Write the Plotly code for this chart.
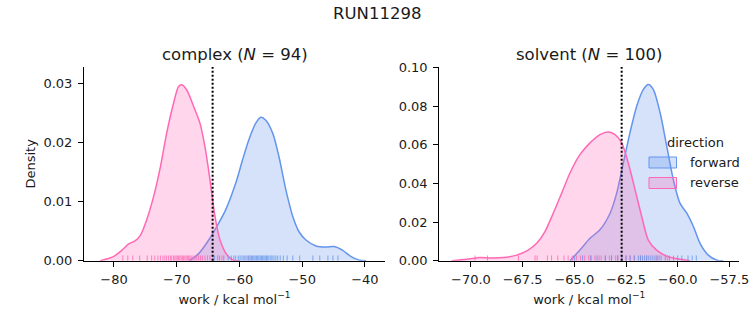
import plotly.graph_objects as go

# ---------------- data ----------------
cx_fwd_x = [-68.0, -66.5, -64.9, -63.6, -62.2, -60.6, -59.5, -58.5, -57.4, -56.6, -55.8, -54.7,
            -53.7, -52.6, -51.5, -50.5, -49.4, -47.8, -46.2, -44.9, -43.6, -42.2, -40.9, -39.8]
cx_fwd_y = [0.0, 0.0012, 0.0035, 0.0058, 0.0086, 0.0131, 0.0171, 0.0205, 0.0233, 0.0243, 0.0238, 0.0216,
            0.0176, 0.0120, 0.0075, 0.0049, 0.0035, 0.0025, 0.0023, 0.0024, 0.0018, 0.0007, 0.0001, 0.0]
cx_rev_x = [-82.2, -80.1, -78.8, -77.7, -76.6, -75.8, -74.8, -73.7, -72.6, -71.6, -70.5, -69.7,
            -69.2, -68.4, -67.3, -66.3, -65.5, -64.7, -63.9, -63.1, -62.0, -61.0, -59.9]
cx_rev_y = [0.0, 0.0007, 0.0017, 0.0028, 0.0034, 0.0043, 0.0069, 0.0108, 0.0159, 0.0216, 0.0267, 0.0295,
            0.0298, 0.0289, 0.0261, 0.0233, 0.0193, 0.0137, 0.0075, 0.0035, 0.0010, 0.0001, 0.0]

sv_fwd_x = [-65.21, -64.73, -64.24, -63.76, -63.27, -62.95, -62.63, -62.31, -61.98, -61.66, -61.42,
            -61.18, -60.85, -60.53, -60.21, -59.89, -59.56, -59.24, -58.92, -58.52, -58.11, -57.79]
sv_fwd_y = [0.0, 0.0055, 0.0116, 0.0160, 0.0246, 0.0350, 0.0506, 0.0662, 0.0801, 0.0887, 0.0913,
            0.0887, 0.0766, 0.0593, 0.0419, 0.0298, 0.0246, 0.0177, 0.0090, 0.0029, 0.0003, 0.0]
sv_rev_x = [-70.94, -70.2, -69.56, -69.08, -68.44, -67.79, -67.23, -66.82, -66.42, -66.02, -65.61, -65.21,
            -64.73, -64.24, -63.76, -63.35, -63.03, -62.71, -62.39, -62.06, -61.74, -61.42, -61.02,
            -60.53, -59.89, -59.4]
sv_rev_y = [0.0, 0.0007, 0.0017, 0.0014, 0.0016, 0.0029, 0.0055, 0.0090, 0.0151, 0.0246, 0.0350, 0.0454,
            0.0549, 0.0610, 0.0653, 0.0666, 0.0653, 0.0610, 0.0506, 0.0367, 0.0229, 0.0107, 0.0055,
            0.0024, 0.0007, 0.0]

cx_fwd_rug = [-64.0, -63.2, -62.5, -61.8, -61.3, -60.9, -60.6, -60.2, -59.9, -59.6, -59.3, -59.1, -58.8,
              -58.6, -58.3, -58.1, -57.9, -57.7, -57.5, -57.3, -57.1, -56.9, -56.7, -56.5, -56.3, -56.1,
              -55.9, -55.7, -55.5, -55.3, -55.0, -54.8, -54.5, -54.2, -53.9, -53.5, -53.0, -52.4, -51.5,
              -50.4, -48.3, -47.2, -45.9, -45.1, -44.3]
cx_rev_rug = [-78.6, -77.8, -77.0, -75.9, -74.7, -74.0, -73.5, -73.0, -72.6, -72.2, -71.9, -71.6, -71.3,
              -71.0, -70.8, -70.5, -70.3, -70.1, -69.9, -69.7, -69.5, -69.3, -69.1, -68.9, -68.7, -68.5,
              -68.3, -68.1, -67.9, -67.7, -67.4, -67.1, -66.8, -66.5, -66.2, -65.9, -65.5, -65.1, -64.7,
              -64.2, -63.5, -62.8, -58.5]
sv_fwd_rug = [-65.0, -64.6, -64.2, -63.9, -63.5, -63.2, -62.9, -62.7, -62.5, -62.3, -62.1, -61.9, -61.8,
              -61.7, -61.6, -61.5, -61.4, -61.3, -61.2, -61.1, -61.0, -60.9, -60.8, -60.6, -60.4, -60.2,
              -60.0, -59.8, -59.5, -59.3, -59.1]
sv_rev_rug = [-69.8, -69.2, -67.7, -66.9, -66.8, -66.3, -66.1, -65.8, -65.5, -65.3, -65.1, -64.9, -64.7,
              -64.5, -64.3, -64.2, -64.0, -63.8, -63.7, -63.5, -63.3, -63.2, -63.0, -62.9, -62.7, -62.5,
              -62.3, -62.1, -61.8, -61.5, -61.0, -60.5]

vlines = [-64.28, -62.71]

panel_titles = ["complex (<i>N</i> = 94)", "solvent (<i>N</i> = 100)"]
suptitle = "RUN11298"
legend_title = "direction"
directions = ["forward", "reverse"]

cx_xticks = [-80, -70, -60, -50, -40]
sv_xticks = [-70.0, -67.5, -65.0, -62.5, -60.0, -57.5]
cx_yticks = [0.00, 0.01, 0.02, 0.03]
sv_yticks = [0.00, 0.02, 0.04, 0.06, 0.08, 0.10]

# ---------------- styling ----------------
BLUE = "#6495ED"
PINK = "#FF69B4"
BLUE_F = "rgba(100,149,237,0.27)"
PINK_F = "rgba(255,105,180,0.27)"
FONT = "DejaVu Sans"
TXT = "#1a1a1a"

W, H = 753, 325
def px(x): return x / W
def py(y): return (H - y) / H

fig = go.Figure()

def add_kde(x, y, color, fill, name, xa, ya):
    fig.add_trace(go.Scatter(x=x, y=y, mode="lines", line=dict(color=color, width=1.5, shape="spline", smoothing=0.8),
                             fill="tozeroy", fillcolor=fill, name=name, showlegend=False,
                             xaxis=xa, yaxis=ya, hoverinfo="skip"))

add_kde(cx_fwd_x, cx_fwd_y, BLUE, BLUE_F, directions[0], "x", "y")
add_kde(cx_rev_x, cx_rev_y, PINK, PINK_F, directions[1], "x", "y")
add_kde(sv_fwd_x, sv_fwd_y, BLUE, BLUE_F, directions[0], "x2", "y2")
add_kde(sv_rev_x, sv_rev_y, PINK, PINK_F, directions[1], "x2", "y2")

shapes = []
def add_rug(vals, color, xr, yr):
    for v in vals:
        shapes.append(dict(type="line", xref=xr, yref=yr + " domain", x0=v, x1=v, y0=0, y1=0.027,
                           line=dict(color=color, width=1), opacity=0.8, layer="above"))

add_rug(cx_rev_rug, PINK, "x", "y")
add_rug(cx_fwd_rug, BLUE, "x", "y")
add_rug(sv_rev_rug, PINK, "x2", "y2")
add_rug(sv_fwd_rug, BLUE, "x2", "y2")

for v, xr, yr in zip(vlines, ["x", "x2"], ["y", "y2"]):
    shapes.append(dict(type="line", xref=xr, yref=yr + " domain", x0=v, x1=v, y0=0, y1=1,
                       line=dict(color="black", width=2, dash="2px,2px"), layer="above"))

# legend drawn as patches (seaborn-style, no frame)
legend_items = [(directions[0], BLUE, BLUE_F, 162.5), (directions[1], PINK, PINK_F, 183.0)]
annotations = []
for name, lc, fc, yc in legend_items:
    shapes.append(dict(type="rect", xref="paper", yref="paper", x0=px(649), x1=px(676.5),
                       y0=py(yc + 5.5), y1=py(yc - 5.5), line=dict(color=lc, width=1), fillcolor=fc,
                       layer="above"))
    annotations.append(dict(text=name, x=px(688), y=py(yc), xref="paper", yref="paper", showarrow=False,
                            xanchor="left", yanchor="middle", font=dict(family=FONT, size=13, color=TXT)))
annotations.append(dict(text=legend_title, x=px(695), y=py(142), xref="paper", yref="paper", showarrow=False,
                        xanchor="center", yanchor="middle", font=dict(family=FONT, size=13, color=TXT)))

ax_common = dict(showline=True, linecolor="black", linewidth=1.1, ticks="outside", ticklen=5, tickwidth=1.1,
                 tickcolor="black", showgrid=False, zeroline=False, mirror=False, automargin=False,
                 tickfont=dict(family=FONT, size=13, color=TXT))

xdom1 = [px(84), px(385)]
xdom2 = [px(439.3), px(739.3)]
ydom = [py(260.7), py(67)]

annotations += [
    dict(text=suptitle, x=0.5, y=py(13), xref="paper", yref="paper", showarrow=False,
         xanchor="center", yanchor="middle", font=dict(family=FONT, size=16.5, color=TXT)),
    dict(text=panel_titles[0], x=(xdom1[0] + xdom1[1]) / 2, y=py(54), xref="paper", yref="paper",
         showarrow=False, xanchor="center", yanchor="middle", font=dict(family=FONT, size=16.5, color=TXT)),
    dict(text=panel_titles[1], x=(xdom2[0] + xdom2[1]) / 2, y=py(54), xref="paper", yref="paper",
         showarrow=False, xanchor="center", yanchor="middle", font=dict(family=FONT, size=16.5, color=TXT)),
]

fig.update_layout(
    width=W, height=H, margin=dict(l=0, r=0, t=0, b=0, pad=0, autoexpand=False),
    paper_bgcolor="white", plot_bgcolor="white",
    font=dict(family=FONT, size=13, color=TXT),
    showlegend=False,
    shapes=shapes,
    xaxis=dict(ax_common, domain=xdom1, range=[-84.78, -36.8], anchor="y",
               tickvals=cx_xticks, ticktext=[f"\u2212{abs(t)}" for t in cx_xticks], ticklabelstandoff=2,
               title=dict(text="work / kcal mol<sup>\u22121</sup>", standoff=8, font=dict(size=13))),
    yaxis=dict(ax_common, domain=ydom, range=[0, 0.0328], anchor="x",
               tickvals=cx_yticks, ticktext=[f"{t:.2f}" for t in cx_yticks], ticklabelstandoff=3,
               title=dict(text="Density", standoff=4, font=dict(size=13))),
    xaxis2=dict(ax_common, domain=xdom2, range=[-71.53, -57.02], anchor="y2",
                tickvals=sv_xticks, ticktext=[f"\u2212{abs(t):.1f}" for t in sv_xticks], ticklabelstandoff=2,
                title=dict(text="work / kcal mol<sup>\u22121</sup>", standoff=8, font=dict(size=13))),
    yaxis2=dict(ax_common, domain=ydom, range=[0, 0.1003], anchor="x2",
                tickvals=sv_yticks, ticktext=[f"{t:.2f}" for t in sv_yticks], ticklabelstandoff=3),
    annotations=annotations,
)

fig.write_html("out.html")
